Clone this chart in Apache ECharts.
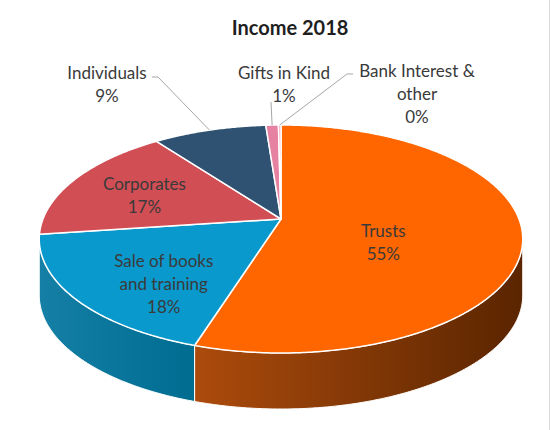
<!DOCTYPE html>
<html lang="en">
<head>
    <meta charset="UTF-8">
    <title>Income 2018</title>
    <script src="https://cdn.jsdelivr.net/npm/echarts@6/dist/echarts.min.js"></script>
    <style>
        html, body { margin: 0; padding: 0; background: #fff; }
        #chart1 { width: 550px; height: 430px; box-sizing: border-box; border-right: 1px solid #D9D9D9; }
    </style>
</head>
<body>
<div id="chart1"></div>
<script type="text/javascript">

    // data (percent of income)
    var categories = ['Trusts', 'Sale of books\nand training', 'Corporates', 'Individuals', 'Gifts in Kind', 'Bank Interest &\nother'];
    var values = [55, 18, 17, 9, 1, 0.2];

    var topColors = ['#FF6600', '#0A99CC', '#D24E55', '#2F5272', '#E681A2', '#F4A3BC'];
    var sideColors = [['#AC4B0C', '#5A2500'], ['#157FA6', '#006C90'], ['#9E3A3F', '#7A2A2E'],
        ['#213B52', '#1A2F42'], ['#B0627C', '#8C4E63'], ['#C07F93', '#9A6575']];

    // fake 3D: tilted disc seen with a bit of perspective, side wall pushed straight down
    var CX = 281, CY = 219, RX = 238, RY = 110.5, K = 0.1754, DEPTH = 56;
    var SIDE_FROM = Math.acos(-K), SIDE_TO = 2 * Math.PI - Math.acos(-K);

    var total = values.reduce(function (a, b) { return a + b; }, 0);
    var startAngles = [];
    var acc = 0;
    values.forEach(function (v) {
        startAngles.push(acc / total * 2 * Math.PI);
        acc += v;
    });

    function project(theta, r, dy) {
        var u = r * Math.sin(theta), v = r * Math.cos(theta), w = 1 + K * v;
        return [CX + RX * u / w, CY - RY * v / w + (dy || 0)];
    }

    function arcPoints(a0, a1, dy) {
        var n = Math.max(2, Math.ceil((a1 - a0) / (Math.PI / 360)));
        var pts = [];
        for (var k = 0; k <= n; k++) {
            pts.push(project(a0 + (a1 - a0) * k / n, 1, dy));
        }
        return pts;
    }

    // label placement (like the manual positions in the original)
    var insideLabel = {0: [0.43, 16], 1: [0.6, 19], 2: [0.65, 3]};
    var outsideLabel = {
        3: {at: [107, 84], line: [[152, 77], [158, 77]]},
        4: {at: [284, 84], line: [[271, 102]]},
        5: {at: [417, 93], line: [[353, 74], [347, 74]]}
    };

    function renderSlice(params, api) {
        var i = params.dataIndex;
        var v = api.value(1);
        var a0 = startAngles[i], a1 = a0 + v / total * 2 * Math.PI;
        var children = [];

        var lo = Math.max(a0, SIDE_FROM), hi = Math.min(a1, SIDE_TO);
        if (hi > lo) {
            var topEdge = arcPoints(lo, hi, 0);
            var pts = topEdge.concat(arcPoints(lo, hi, DEPTH).reverse());
            var xs = pts.map(function (p) { return p[0]; });
            children.push({
                type: 'polygon', z2: 1,
                shape: {points: pts},
                style: {
                    fill: {
                        type: 'linear', global: true,
                        x: Math.min.apply(null, xs), y: 0, x2: Math.max.apply(null, xs), y2: 0,
                        colorStops: [{offset: 0, color: sideColors[i][0]}, {offset: 1, color: sideColors[i][1]}]
                    },
                    stroke: '#fff', lineWidth: 1
                }
            });
        }

        children.push({
            type: 'polygon', z2: 2,
            shape: {points: [project(0, 0)].concat(arcPoints(a0, a1, 0))},
            style: {fill: topColors[i], stroke: '#fff', lineWidth: 1.5, lineJoin: 'round'}
        });

        var text = categories[i] + '\n' + Math.round(v / total * 100) + '%';
        var mid = (a0 + a1) / 2;
        var pos;
        if (insideLabel[i]) {
            pos = project(mid, insideLabel[i][0], insideLabel[i][1]);
        } else {
            pos = outsideLabel[i].at;
            children.push({
                type: 'polyline', z2: 3,
                shape: {points: outsideLabel[i].line.concat([project(mid, 1)])},
                style: {stroke: '#A6A6A6', lineWidth: 1, fill: null}
            });
        }
        children.push({
            type: 'text', z2: 4,
            style: {
                text: text, x: pos[0], y: pos[1],
                align: 'center', verticalAlign: 'middle',
                fontFamily: 'Lato', fontSize: 17, lineHeight: 23, fill: '#3a3a3a'
            }
        });

        return {type: 'group', children: children};
    }

    var myChart1 = echarts.init(document.getElementById('chart1'), null, {renderer: 'svg'});
    myChart1.setOption({
        animation: false,
        title: {
            text: 'Income 2018',
            left: 285,
            top: 12,
            textAlign: 'center',
            textStyle: {fontFamily: 'Lato', fontWeight: 'bold', fontSize: 20, color: '#1f1f1f'}
        },
        series: [{
            type: 'custom',
            coordinateSystem: 'none',
            silent: true,
            data: values.map(function (v, i) { return [i, v]; }),
            renderItem: renderSlice
        }]
    });

</script>
</body>
</html>
